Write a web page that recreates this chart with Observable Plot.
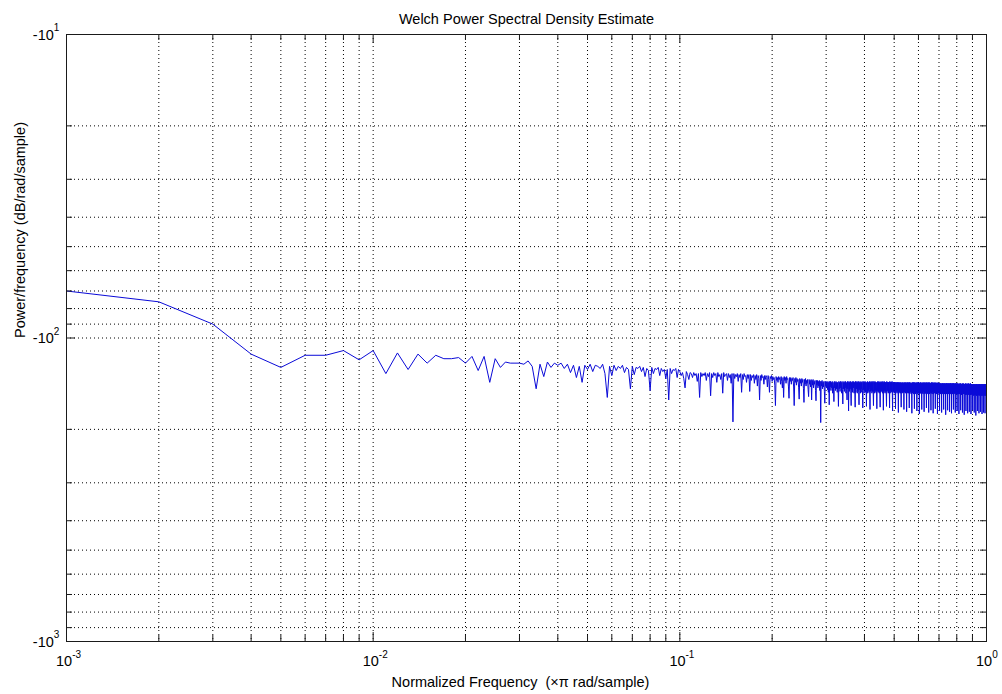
<!DOCTYPE html>
<html>
<head>
<meta charset="utf-8">
<script src="https://cdn.jsdelivr.net/npm/d3@7"></script>
<script src="https://cdn.jsdelivr.net/npm/@observablehq/plot@0.6"></script>
<style>
  html, body { margin: 0; padding: 0; background: #fff; }
  #chart svg { display: block; }
</style>
</head>
<body>
<div id="chart"></div>
<script>
// Frequency bins are spaced evenly in normalized frequency (×π rad/sample).
const binWidth = 0.001;

// Welch PSD estimate in dB/rad/sample, bins 1..9
const psdDecade1 = [-70, -76, -90, -113, -125, -114, -114, -110, -118];

// bins 10..99
const psdDecade2 = [
  -110, -131, -112, -127, -113, -121, -114, -117, -117, -116,
  -121, -115, -128, -115, -140, -117, -125, -120, -121, -121,
  -121, -122, -119, -124, -147, -122, -134, -120, -125, -121,
  -123, -121, -126, -122, -130, -123, -135, -124, -140, -123,
  -127, -122, -129, -123, -124, -126, -122, -131, -157, -124,
  -133, -123, -128, -124, -126, -123, -130, -125, -127, -147,
  -124, -132, -125, -126, -124, -129, -125, -134, -126, -128,
  -149, -125, -131, -126, -127, -125, -133, -126, -129, -127,
  -136, -127, -160, -126, -131, -127, -128, -126, -135, -127
];

// bins 100..1000
const psdDecade3 = [
  -129, -133, -130, -136, -146, -129, -132, -137, -130, -131,
  -135, -130, -133, -131, -139, -131, -157, -130, -134, -131,
  -133, -130, -138, -131, -134, -130, -155, -131, -135, -130,
  -133, -131, -140, -130, -134, -132, -137, -131, -152, -130,
  -134, -132, -131, -138, -131, -135, -132, -141, -131, -189,
  -131, -136, -132, -134, -131, -139, -132, -135, -131, -151,
  -132, -137, -131, -134, -133, -140, -132, -136, -132, -150,
  -132, -138, -133, -135, -132, -141, -133, -137, -132, -144,
  -133, -136, -160, -133, -138, -132, -135, -134, -142, -133,
  -137, -133, -135, -145, -133, -137, -151, -134, -136, -133,
  -139, -134, -137, -135, -143, -167, -134, -138, -135, -140,
  -134, -137, -135, -142, -134, -139, -146, -135, -157, -134,
  -138, -135, -141, -134, -137, -136, -144, -158, -135, -139,
  -135, -142, -136, -138, -135, -145, -167, -136, -140, -135,
  -143, -136, -139, -137, -146, -159, -136, -141, -137, -144,
  -136, -140, -137, -147, -163, -137, -142, -136, -144, -138,
  -141, -137, -148, -156, -137, -142, -138, -145, -137, -160,
  -138, -143, -137, -146, -139, -142, -138, -149, -161, -138,
  -143, -138, -146, -139, -144, -138, -149, -139, -190, -139,
  -144, -138, -147, -140, -145, -139, -150, -164, -139, -144,
  -139, -146, -140, -148, -139, -151, -140, -166, -139, -145,
  -139, -149, -140, -146, -139, -152, -140, -145, -162, -139,
  -146, -140, -149, -139, -147, -140, -151, -140, -145, -168,
  -139, -147, -140, -150, -139, -146, -140, -152, -139, -148,
  -165, -140, -147, -139, -150, -140, -146, -139, -152, -140,
  -148, -160, -139, -147, -140, -174, -139, -150, -140, -147,
  -139, -152, -167, -140, -148, -139, -151, -140, -146, -139,
  -152, -140, -148, -169, -139, -151, -140, -147, -139, -152,
  -140, -149, -139, -151, -166, -140, -148, -139, -152, -140,
  -147, -140, -151, -139, -149, -170, -140, -148, -139, -152,
  -140, -149, -139, -151, -140, -148, -168, -140, -150, -139,
  -152, -140, -149, -140, -151, -139, -148, -172, -140, -150,
  -139, -149, -140, -152, -139, -150, -140, -151, -167, -139,
  -150, -140, -152, -139, -149, -140, -151, -140, -150, -171,
  -140, -149, -139, -151, -140, -150, -139, -152, -140, -149,
  -169, -140, -151, -139, -150, -140, -149, -140, -152, -139,
  -150, -173, -140, -151, -139, -149, -140, -152, -140, -150,
  -140, -151, -168, -139, -150, -140, -149, -140, -152, -140,
  -151, -140, -150, -170, -139, -152, -140, -149, -140, -151,
  -140, -150, -139, -152, -174, -140, -151, -140, -149, -140,
  -151, -140, -152, -140, -150, -171, -140, -151, -140, -149,
  -141, -152, -140, -150, -140, -151, -176, -140, -152, -141,
  -150, -140, -151, -141, -152, -140, -150, -169, -141, -151,
  -140, -152, -141, -150, -140, -151, -141, -152, -172, -140,
  -151, -141, -150, -140, -152, -141, -151, -140, -150, -175,
  -141, -152, -140, -151, -141, -150, -140, -152, -141, -151,
  -170, -140, -152, -141, -150, -141, -151, -140, -153, -141,
  -150, -177, -141, -152, -140, -151, -141, -150, -140, -153,
  -141, -151, -171, -140, -152, -141, -150, -141, -153, -140,
  -151, -141, -152, -174, -140, -150, -141, -153, -140, -151,
  -141, -152, -140, -151, -178, -141, -153, -141, -150, -140,
  -152, -141, -151, -141, -153, -172, -140, -152, -141, -151,
  -141, -153, -140, -150, -141, -152, -175, -141, -151, -140,
  -153, -141, -151, -141, -152, -140, -150, -170, -141, -153,
  -140, -151, -141, -152, -141, -153, -140, -151, -176, -141,
  -150, -141, -153, -140, -152, -141, -151, -141, -153, -173,
  -141, -152, -140, -151, -141, -153, -141, -150, -140, -152,
  -177, -141, -153, -141, -151, -140, -152, -141, -150, -141,
  -153, -171, -141, -152, -140, -151, -141, -153, -141, -150,
  -141, -152, -178, -141, -153, -140, -151, -141, -152, -141,
  -150, -141, -153, -174, -141, -152, -141, -151, -142, -153,
  -141, -151, -142, -152, -176, -141, -153, -142, -150, -141,
  -152, -142, -153, -141, -151, -172, -142, -152, -141, -153,
  -142, -151, -141, -153, -142, -152, -179, -141, -151, -142,
  -153, -141, -152, -142, -150, -141, -153, -173, -142, -151,
  -141, -152, -142, -153, -141, -151, -142, -152, -175, -141,
  -153, -142, -151, -141, -152, -142, -153, -141, -150, -177,
  -142, -152, -141, -153, -142, -151, -141, -153, -142, -152,
  -172, -141, -151, -142, -153, -141, -152, -142, -150, -142,
  -153, -176, -141, -152, -142, -151, -142, -153, -141, -152,
  -142, -151, -174, -142, -153, -141, -152, -142, -151, -142,
  -153, -142, -152, -178, -141, -151, -142, -153, -142, -152,
  -142, -153, -141, -152, -173, -142, -151, -142, -154, -142,
  -152, -142, -153, -141, -151, -176, -142, -153, -142, -152,
  -141, -153, -142, -152, -142, -154, -179, -142, -151, -142,
  -153, -142, -152, -141, -154, -142, -151, -174, -142, -153,
  -142, -152, -142, -154, -141, -152, -142, -153, -177, -142,
  -151, -142, -154, -142, -152, -141, -153, -142, -152, -175,
  -142, -154, -142, -151, -142, -153, -141, -154, -142, -152,
  -178, -142, -153, -142, -152, -143, -154, -142, -151, -143,
  -153, -173, -142, -154, -143, -152, -142, -153, -143, -155,
  -142, -152, -176, -143, -154, -142, -153, -143, -152, -142,
  -154, -143, -153, -180, -142, -152, -143, -155, -142, -153,
  -143, -154, -142, -153, -174, -143, -152, -142, -155, -143,
  -153, -142, -154, -143, -152, -177, -142, -154, -143, -153,
  -142, -155, -143, -152, -142, -154, -175, -143, -153, -142,
  -154, -143, -153, -142, -155, -143, -152, -178, -142, -154,
  -143, -153, -142, -155, -143, -152, -142, -154, -176, -143,
  -153, -142, -155, -143, -152, -142, -154, -143, -153, -177,
  -142, -155, -143, -153, -142, -154, -143, -152, -142, -155,
  -143
];

// Axis ticks (log decades and their minor subdivisions)
const xMajorTicks = [0.001, 0.01, 0.1, 1];
const xMajorExponents = ["-3", "-2", "-1", "0"];
const xMinorTicks = [
  0.002, 0.003, 0.004, 0.005, 0.006, 0.007, 0.008, 0.009,
  0.02, 0.03, 0.04, 0.05, 0.06, 0.07, 0.08, 0.09,
  0.2, 0.3, 0.4, 0.5, 0.6, 0.7, 0.8, 0.9
];
const yMajorTicks = [-10, -100, -1000];
const yMajorExponents = ["1", "2", "3"];
const yMinorTicks = [
  -20, -30, -40, -50, -60, -70, -80, -90,
  -200, -300, -400, -500, -600, -700, -800, -900
];

const titleText = "Welch Power Spectral Density Estimate";
const xLabelText = "Normalized Frequency  (\u00d7\u03c0 rad/sample)";
const yLabelText = "Power/frequency (dB/rad/sample)";

const psd = [...psdDecade1, ...psdDecade2, ...psdDecade3]
  .map((db, i) => ({f: (i + 1) * binWidth, db}));

const W = 1002, H = 694;
const M = {left: 66, right: 16, top: 34, bottom: 53};
const frameW = W - M.left - M.right;
const frameH = H - M.top - M.bottom;
const majorLen = 9, minorLen = 6;
const axisColor = "#1a1a1a";
const gridStyle = {stroke: "#000", strokeDasharray: "1,3", strokeWidth: 1};
const font = "'Liberation Sans', Arial, Helvetica, sans-serif";

// inward tick marks on all four sides of the box
function boxTicks(values, len) {
  return [
    Plot.tickX(values, {x: d => d, insetTop: frameH - len, stroke: axisColor}),
    Plot.tickX(values, {x: d => d, insetBottom: frameH - len, stroke: axisColor})
  ];
}
function boxTicksY(values, len) {
  return [
    Plot.tickY(values, {y: d => d, insetRight: frameW - len, stroke: axisColor}),
    Plot.tickY(values, {y: d => d, insetLeft: frameW - len, stroke: axisColor})
  ];
}

const chart = Plot.plot({
  width: W,
  height: H,
  marginLeft: M.left,
  marginRight: M.right,
  marginTop: M.top,
  marginBottom: M.bottom,
  style: {fontFamily: font, background: "#fff", color: "#000", overflow: "visible"},
  x: {type: "log", domain: [0.001, 1], axis: null},
  y: {type: "log", domain: [-1000, -10], axis: null},
  marks: [
    Plot.ruleX([...xMinorTicks, ...xMajorTicks], gridStyle),
    Plot.ruleY([...yMinorTicks, ...yMajorTicks], gridStyle),
    Plot.line(psd, {x: "f", y: "db", stroke: "#0a0ad8", strokeWidth: 1}),
    Plot.frame({stroke: axisColor}),
    ...boxTicks(xMajorTicks, majorLen),
    ...boxTicks(xMinorTicks, minorLen),
    ...boxTicksY(yMajorTicks, majorLen),
    ...boxTicksY(yMinorTicks, minorLen),
    // x tick labels: 10 with a raised exponent
    Plot.text(xMajorTicks, {
      x: d => d, frameAnchor: "bottom", text: () => "10",
      textAnchor: "end", lineAnchor: "bottom", dx: 5.7, dy: 24,
      fontSize: 14.5, fill: "#000"
    }),
    Plot.text(xMajorTicks, {
      x: d => d, frameAnchor: "bottom", text: (d, i) => xMajorExponents[i],
      textAnchor: "start", lineAnchor: "bottom", dx: 5.7, dy: 16,
      fontSize: 10, fill: "#000"
    }),
    // y tick labels: -10 with a raised exponent
    Plot.text(yMajorTicks, {
      y: d => d, frameAnchor: "left", text: () => "-10",
      textAnchor: "end", lineAnchor: "bottom", dx: -12.7, dy: 5,
      fontSize: 14.5, fill: "#000"
    }),
    Plot.text(yMajorTicks, {
      y: d => d, frameAnchor: "left", text: (d, i) => yMajorExponents[i],
      textAnchor: "start", lineAnchor: "bottom", dx: -12.7, dy: -3.5,
      fontSize: 10, fill: "#000"
    }),
    // title and axis labels
    Plot.text([titleText], {
      text: d => d, frameAnchor: "top", lineAnchor: "bottom", dy: -11,
      fontSize: 14.5, fill: "#000"
    }),
    Plot.text([xLabelText], {
      text: d => d, frameAnchor: "bottom", lineAnchor: "bottom", dy: 45, dx: -6,
      fontSize: 14.5, fill: "#000"
    }),
    Plot.text([yLabelText], {
      text: d => d, frameAnchor: "left", lineAnchor: "bottom", rotate: -90, dx: -42,
      fontSize: 14.5, fill: "#000"
    })
  ]
});

document.getElementById("chart").append(chart);
</script>
</body>
</html>
